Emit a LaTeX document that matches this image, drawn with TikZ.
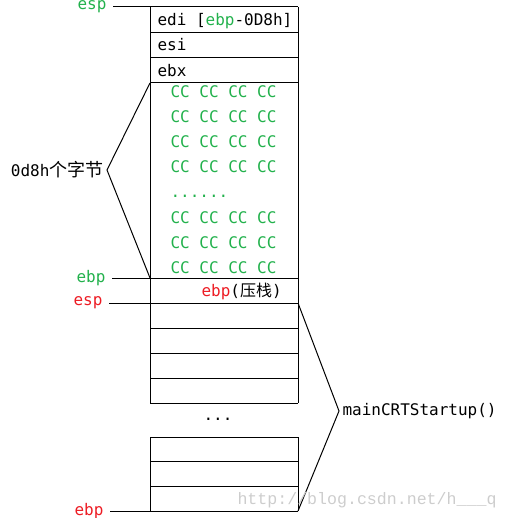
\documentclass[tikz,border=0pt]{standalone}
\usepackage{fontspec}
\setmonofont{DejaVu Sans Mono}
\newfontfamily\cjk{Noto Sans CJK SC}
\newfontfamily\wmfont{Liberation Mono}
\usetikzlibrary{positioning}
\definecolor{ccgreen}{RGB}{34,177,76}
\definecolor{regred}{RGB}{237,28,36}
\definecolor{wmgray}{RGB}{205,205,205}

\begin{document}
\begin{tikzpicture}[x=0.5pt, y=-0.5pt, line width=0.5pt,
    font=\ttfamily\fontsize{8}{9}\selectfont,
    txt/.style={anchor=base west, inner sep=0pt},
    reglbl/.style={anchor=east, inner xsep=3pt, inner ysep=0pt}]
    \useasboundingbox (0,0) rectangle (508,518);

    % Stack frame
    \foreach \y in {7,33,58,83,278,303,328,353,378,403,437,461,486,511}
        \draw (150,\y) -- (298,\y);
    \draw (150,7) -- (150,403) (298,7) -- (298,403);
    \draw (150,437) -- (150,511) (298,437) -- (298,511);

    \coordinate (espTopC) at (150,7);
    \coordinate (ccTop) at (150,83);
    \coordinate (ebpOldC) at (150,278);
    \coordinate (espC) at (150,303);
    \coordinate (ebpC) at (150,511);
    \coordinate (mainTop) at (298,303);
    \coordinate (mainBot) at (298,511);

    % Saved registers
    \node[txt] (edi) at (157,26) {edi [\textcolor{ccgreen}{ebp}-0D8h]};
    \node[txt] (esi) at (157,51) {esi};
    \node[txt] (ebx) at (157,77) {ebx};

    % Local area filled with CC
    \foreach \y [count=\i] in {98,123,148,173,223,248,273}
        \node[txt, text=ccgreen] (cc\i) at (170,\y) {CC CC CC CC};
    \node[txt, text=ccgreen] (ccdots) at (170,198) {......};

    \node[txt] (ebpPush) at (201,296) {\textcolor{regred}{ebp}({\cjk 压栈})};
    \node[txt] (gap) at (203,420) {...};

    % Register pointers
    \node[reglbl, text=ccgreen] (espTop) at (113,7) {esp};
    \draw (espTop) -- (espTopC);
    \node[reglbl, text=ccgreen] (ebpOld) at (112,278) {ebp};
    \draw (ebpOld) -- (ebpOldC);
    \node[reglbl, text=regred] (esp) at (109,303) {esp};
    \draw (esp) -- (espC);
    \node[reglbl, text=regred] (ebp) at (110,511) {ebp};
    \draw (ebp) -- (ebpC);

    % Braces
    \node[anchor=east, inner xsep=1.5pt, inner ysep=0pt] (bytes) at (107,170) {0d8h{\cjk\fontsize{9}{10}\selectfont 个字节}};
    \draw (ccTop) -- (bytes.east) -- (ebpOldC);
    \node[anchor=west, inner xsep=1.5pt, inner ysep=0pt] (mainLbl) at (339,411) {mainCRTStartup()};
    \draw (mainTop) -- (mainLbl.west) -- (mainBot);

    \node[txt, text=wmgray, font=\wmfont\fontsize{8.3}{9}\selectfont] (watermark) at (237,504) {http://blog.csdn.net/h\_\_\_q};

\end{tikzpicture}
\end{document}
